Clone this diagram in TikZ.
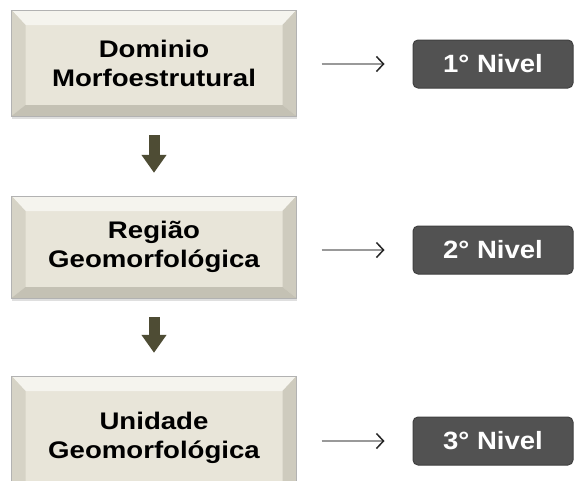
\documentclass[tikz,border=0pt]{standalone}
\usepackage{fontspec}
\usetikzlibrary{arrows.meta,shadows}
\newfontfamily\boxfont[FakeStretch=1.15]{Liberation Sans}
\newfontfamily\nivelfont[FakeStretch=1.1]{Liberation Sans}
\definecolor{face}{RGB}{232,229,217}
\definecolor{bevtop}{RGB}{245,244,238}
\definecolor{bevleft}{RGB}{214,211,198}
\definecolor{bevright}{RGB}{206,203,190}
\definecolor{bevbot}{RGB}{196,193,180}
\definecolor{nivelcor}{RGB}{82,82,82}
\definecolor{setacor}{RGB}{78,76,52}
\tikzset{
  bloco/.style={minimum width=285pt,minimum height=#1,inner sep=0pt,
    fill=face,draw=black!30,align=center,
    font=\boxfont\bfseries\fontsize{24}{29}\selectfont,
    drop shadow={shadow xshift=0pt,shadow yshift=-3pt,opacity=.25},
    path picture={
      \fill[bevtop] (path picture bounding box.north west)--(path picture bounding box.north east)
        --([xshift=-14pt,yshift=-15pt]path picture bounding box.north east)
        --([xshift=14pt,yshift=-15pt]path picture bounding box.north west)--cycle;
      \fill[bevleft] (path picture bounding box.north west)--(path picture bounding box.south west)
        --([xshift=14pt,yshift=11pt]path picture bounding box.south west)
        --([xshift=14pt,yshift=-15pt]path picture bounding box.north west)--cycle;
      \fill[bevright] (path picture bounding box.north east)--(path picture bounding box.south east)
        --([xshift=-14pt,yshift=11pt]path picture bounding box.south east)
        --([xshift=-14pt,yshift=-15pt]path picture bounding box.north east)--cycle;
      \fill[bevbot] (path picture bounding box.south west)--(path picture bounding box.south east)
        --([xshift=-14pt,yshift=11pt]path picture bounding box.south east)
        --([xshift=14pt,yshift=11pt]path picture bounding box.south west)--cycle;
    }},
  nivel/.style={minimum width=160pt,minimum height=48pt,inner sep=0pt,
    rounded corners=5pt,fill=nivelcor,draw=black!75,line width=1pt,
    text=white,font=\nivelfont\bfseries\fontsize{25}{28}\selectfont},
  desce/.style={draw=setacor,line width=11pt,shorten <=19pt,shorten >=23pt,
    -{Triangle[width=24pt,length=18pt,fill=setacor]}},
  liga/.style={draw=black!40,line width=1.8pt,shorten <=25pt,shorten >=28pt,
    -{Straight Barb[length=7pt,width=15pt,color=black!85,line width=1.5pt]}}
}
\begin{document}
\begin{tikzpicture}[x=1pt,y=-1pt]
\useasboundingbox[fill=white] (0,0) rectangle (576,480);

\node[bloco=106pt] (dominio) at (154,63) {Dominio\\Morfoestrutural};
\node[bloco=102pt] (regiao) at (154,247) {Região\\Geomorfológica};
\node[bloco=124pt] (unidade) at (154,438) {Unidade\\Geomorfológica};

\node[nivel] (n1) at (493,64) {1° Nivel};
\node[nivel] (n2) at (493,250) {2° Nivel};
\node[nivel] (n3) at (493,441) {3° Nivel};

\draw[desce] (dominio) -- (regiao);
\draw[desce] (regiao) -- (unidade);

\draw[liga] (dominio.east |- n1.west) -- (n1.west);
\draw[liga] (regiao.east |- n2.west) -- (n2.west);
\draw[liga] (unidade.east |- n3.west) -- (n3.west);
\end{tikzpicture}
\end{document}
